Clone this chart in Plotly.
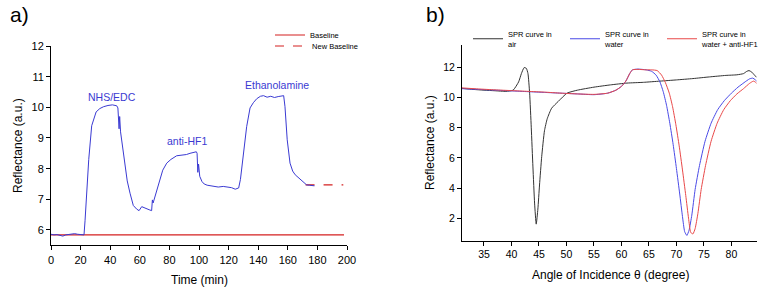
import plotly.graph_objects as go

# ---------------- Panel a data ----------------
time_min = [0, 2, 4, 6, 8, 10, 12, 14, 16, 18, 20, 22.3, 23, 24.5, 25.5, 27.5, 30.5, 33, 35.5, 38.5,
            41.5, 44.4, 45.2, 46.0, 46.4, 47.0, 47.7, 49, 50, 51.5, 53.4, 55.6, 57.9, 59.5, 61.3,
            63, 64.6, 66.3, 68, 68.5, 69, 70, 72, 73.6, 75.5, 78.2, 81, 84.9, 88.5, 91.5,
            93.9, 96.5, 98.2, 98.7, 99.2, 99.7, 100.5, 102, 103.5, 105.5, 107.5, 110,
            113, 116.4, 119, 122, 124.5, 125.8, 126.8, 128, 130, 132.2, 134.5, 136.7, 139,
            141.5, 143.6, 146, 148.5, 151, 153.5, 156, 157.2, 158.1, 159.6, 161.5, 163.3,
            165, 167.2, 169.4, 171.2, 172.7, 174.5, 176.5, 178]
signal_au = [5.86, 5.84, 5.85, 5.83, 5.80, 5.84, 5.85, 5.87, 5.88, 5.86, 5.85, 5.84, 6.3, 7.5, 8.3, 9.4, 9.85, 9.96, 10.02, 10.06,
             10.08, 10.05, 9.98, 9.3, 9.7, 9.2, 8.94, 8.4, 8.07, 7.6, 7.2, 6.8, 6.68, 6.63, 6.76,
             6.72, 6.68, 6.66, 6.63, 6.98, 6.88, 7.05, 7.4, 7.63, 7.95, 8.18, 8.3, 8.42, 8.44, 8.46,
             8.5, 8.52, 8.55, 8.5, 7.88, 8.15, 7.75, 7.58, 7.5, 7.46, 7.45, 7.43,
             7.4, 7.42, 7.4, 7.38, 7.33, 7.34, 7.37, 7.65, 8.5, 9.37, 9.98, 10.15, 10.28,
             10.36, 10.38, 10.33, 10.36, 10.32, 10.35, 10.37, 10.38, 10.02, 8.94, 8.18, 7.92,
             7.8, 7.7, 7.63, 7.55, 7.47, 7.46, 7.44, 7.44]

baseline_t = [0, 198]
baseline_v = [5.84, 5.84]
new_baseline_t = [172, 197.5]
new_baseline_v = [7.47, 7.47]

a_xticks = [0, 20, 40, 60, 80, 100, 120, 140, 160, 180, 200]
a_yticks = [6, 7, 8, 9, 10, 11, 12]

# ---------------- Panel b data ----------------
angle_air = [31, 33, 35, 37, 39, 40.3, 41.3, 41.8, 42.3, 42.7, 43.0, 43.3, 43.6, 43.9, 44.2, 44.5,
             44.8, 45.1, 45.5, 46.0, 46.5, 47.3, 48.5, 50.1, 52, 55, 58, 61, 64, 67, 70, 73, 76,
             79, 81, 82.2, 82.8, 83.2, 83.7, 84.2, 84.6]
refl_air = [10.62, 10.55, 10.5, 10.46, 10.42, 10.5, 11.05, 11.6, 12.0, 11.95, 11.6, 10.3, 8.0, 5.4, 3.0, 1.6,
            2.6, 4.2, 6.1, 7.8, 8.6, 9.3, 9.75, 10.3, 10.5, 10.7, 10.85, 10.97, 11.02, 11.1, 11.18, 11.27, 11.38,
            11.48, 11.52, 11.6, 11.75, 11.8, 11.7, 11.5, 11.35]

angle_water = [31, 34, 37, 40, 43, 46, 49, 52, 55, 57.5, 59, 60, 60.8, 61.5, 62, 63, 64.5, 65.5, 66.3,
               67, 67.6, 68.2, 68.8, 69.4, 70, 70.6, 71.1, 71.5, 71.9, 72.3, 72.8, 73.4, 74.2, 75.2,
               76.3, 77.5, 78.7, 80, 81.2, 82.3, 83.3, 83.9, 84.3, 84.6]
refl_water = [10.6, 10.55, 10.5, 10.45, 10.4, 10.35, 10.3, 10.25, 10.2, 10.3, 10.5, 10.75, 11.1, 11.6, 11.85, 11.9, 11.85, 11.75, 11.5,
              11.05, 10.4, 9.5, 8.3, 6.9, 5.3, 3.6, 2.1, 1.1, 0.85, 1.2, 2.2, 3.9, 5.5, 7.1,
              8.3, 9.2, 9.8, 10.3, 10.7, 11.0, 11.25, 11.3, 11.2, 11.1]

angle_hf1 = [31, 34, 37, 40, 43, 46, 49, 52, 55, 57.5, 59, 60, 60.8, 61.5, 62, 63, 64.5, 65.5, 66.5,
             67.3, 68, 68.7, 69.3, 69.9, 70.5, 71.1, 71.7, 72.2, 72.6, 73.0, 73.4, 73.9, 74.5, 75.3,
             76.3, 77.4, 78.6, 79.8, 81.0, 82.2, 83.3, 84.0, 84.3, 84.6]
refl_hf1 = [10.65, 10.58, 10.52, 10.47, 10.42, 10.37, 10.3, 10.25, 10.22, 10.3, 10.5, 10.75, 11.1, 11.6, 11.85, 11.88, 11.85, 11.85, 11.8,
            11.5, 11.0, 10.3, 9.4, 8.2, 6.8, 5.2, 3.5, 2.0, 1.05, 0.95, 1.3, 2.3, 3.9, 5.5,
            7.1, 8.3, 9.2, 9.8, 10.25, 10.6, 10.95, 11.1, 11.05, 10.95]

b_xticks = [35, 40, 45, 50, 55, 60, 65, 70, 75, 80]
b_yticks = [2, 4, 6, 8, 10, 12]

W, H = 765, 293
FONT = "Arial, Liberation Sans, sans-serif"
BLUE_A = "#3a3ad2"

fig = go.Figure()

# Panel a traces
fig.add_trace(go.Scatter(x=baseline_t, y=baseline_v, mode="lines", name="Baseline",
                         line=dict(color="#d42020", width=1.2), xaxis="x", yaxis="y", legend="legend"))
fig.add_trace(go.Scatter(x=new_baseline_t, y=new_baseline_v, mode="lines", name=" New Baseline",
                         line=dict(color="#d42020", width=1.2, dash="dash"), xaxis="x", yaxis="y", legend="legend3"))
fig.add_trace(go.Scatter(x=time_min, y=signal_au, mode="lines", showlegend=False,
                         line=dict(color=BLUE_A, width=1), xaxis="x", yaxis="y"))

# Panel b traces
fig.add_trace(go.Scatter(x=angle_air, y=refl_air, mode="lines", name="SPR curve in<br>air",
                         line=dict(color="#333333", width=1, shape="spline", smoothing=0.5),
                         xaxis="x2", yaxis="y2", legend="legend2"))
fig.add_trace(go.Scatter(x=angle_water, y=refl_water, mode="lines", name="SPR curve in<br>water",
                         line=dict(color="#4a4ae6", width=1, shape="spline", smoothing=0.5),
                         xaxis="x2", yaxis="y2", legend="legend2"))
fig.add_trace(go.Scatter(x=angle_hf1, y=refl_hf1, mode="lines", name="SPR curve in<br>water + anti-HF1",
                         line=dict(color="#e84848", width=1, shape="spline", smoothing=0.5),
                         xaxis="x2", yaxis="y2", legend="legend2"))

axis_common = dict(showgrid=False, zeroline=False, showline=True, linecolor="black", linewidth=1,
                   ticks="outside", ticklen=4, tickcolor="black", tickwidth=1, mirror=False)

fig.update_layout(
    width=W, height=H,
    margin=dict(l=0, r=0, t=0, b=0, autoexpand=False),
    paper_bgcolor="white", plot_bgcolor="white",
    font=dict(family=FONT, color="black"),
    xaxis=dict(domain=[51 / W, 347 / W], range=[0, 200], tickvals=a_xticks,
               tickfont=dict(size=11), anchor="y", **axis_common),
    yaxis=dict(domain=[1 - 245.3 / H, 1 - 46 / H], range=[5.5, 12], tickvals=a_yticks,
               tickfont=dict(size=11), anchor="x", **axis_common),
    xaxis2=dict(domain=[462 / W, 756.7 / W], range=[31, 84.6], tickvals=b_xticks,
                tickfont=dict(size=10.5), anchor="y2", **axis_common),
    yaxis2=dict(domain=[1 - 240.7 / H, 1 - 45 / H], range=[0.5, 13.5], tickvals=b_yticks,
                tickfont=dict(size=10.5), anchor="x2", **axis_common),
    legend=dict(x=270 / W, y=1 - 35 / H, xanchor="left", yanchor="middle", bgcolor="rgba(0,0,0,0)",
                font=dict(size=7.5), itemwidth=30),
    legend3=dict(x=270 / W, y=1 - 46 / H, xanchor="left", yanchor="middle", bgcolor="rgba(0,0,0,0)",
                 font=dict(size=7.5), itemwidth=30),
    legend2=dict(x=468 / W, y=1 - 39 / H, xanchor="left", yanchor="middle", orientation="h",
                 bgcolor="rgba(0,0,0,0)", font=dict(size=7.5), entrywidth=52, entrywidthmode="pixels",
                 itemwidth=30),
)

annos = [
    dict(text="a)", x=8 / W, y=1 - 15 / H, xanchor="left"),
    dict(text="b)", x=424 / W, y=1 - 15 / H, xanchor="left"),
    dict(text="Reflectance (a.u.)", x=18 / W, y=1 - 146 / H, textangle=-90),
    dict(text="Time (min)", x=199 / W, y=1 - 280 / H),
    dict(text="Reflectance (a.u.)", x=430 / W, y=1 - 143 / H, textangle=-90),
    dict(text="Angle of Incidence \u03b8 (degree)", x=610 / W, y=1 - 275 / H),
]
for a in annos:
    a.setdefault("xanchor", "center")
    a.update(xref="paper", yref="paper", yanchor="middle", showarrow=False,
             font=dict(size=21 if a["text"] in ("a)", "b)") else 12))

data_annos = [
    dict(text="NHS/EDC", x=41, y=10.35),
    dict(text="anti-HF1", x=92, y=8.9),
    dict(text="Ethanolamine", x=152.7, y=10.72),
]
for a in data_annos:
    a.update(xref="x", yref="y", xanchor="center", yanchor="middle", showarrow=False,
             font=dict(size=10.5, color=BLUE_A))

fig.update_layout(annotations=annos + data_annos)

fig.write_html("out.html", config={"displayModeBar": False},
               post_script="document.body.style.margin='0';document.body.style.overflow='hidden';")
